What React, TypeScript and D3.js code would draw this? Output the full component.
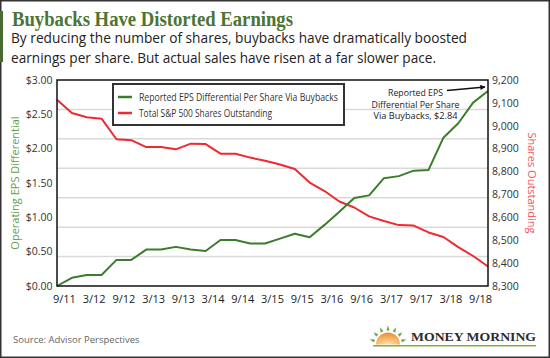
import { useEffect, useRef } from "react";
import * as d3 from "d3";

// quarterly values, 9/11 .. 12/18
const epsDiff = [
  0.0, 0.12, 0.16, 0.16, 0.38, 0.38, 0.53, 0.53, 0.57, 0.53,
  0.51, 0.67, 0.67, 0.62, 0.62, 0.69, 0.76, 0.71, 0.89, 1.08,
  1.28, 1.32, 1.57, 1.6, 1.68, 1.69, 2.16, 2.37, 2.67, 2.84,
];
const sharesOut = [
  9114, 9056, 9037, 9031, 8941, 8937, 8907, 8907, 8897, 8922,
  8920, 8878, 8878, 8861, 8847, 8831, 8811, 8752, 8715, 8669,
  8643, 8604, 8584, 8566, 8564, 8534, 8514, 8470, 8431, 8385,
];
const xLabels = [
  "9/11", "3/12", "9/12", "3/13", "9/13", "3/14", "9/14", "3/15",
  "9/15", "3/16", "9/16", "3/17", "9/17", "3/18", "9/18",
];
const leftTicks = [0, 0.5, 1, 1.5, 2, 2.5, 3];
const rightTicks = [8300, 8400, 8500, 8600, 8700, 8800, 8900, 9000, 9100, 9200];

const GREEN = "#3a7d2b";
const RED = "#ef2a2f";
const FONT = "'Open Sans', Arial, sans-serif";

export default function App() {
  const ref = useRef<SVGSVGElement>(null);

  useEffect(() => {
    if (!ref.current) return;
    const svg = d3.select(ref.current);
    svg.selectAll("*").remove();

    const width = 550;
    const height = 358;
    const margin = { top: 80, right: 62, bottom: 72, left: 57 };
    const plotR = width - margin.right;
    const plotB = height - margin.bottom;

    const x = d3.scaleLinear().domain([0, epsDiff.length - 1]).range([margin.left, plotR]);
    const yL = d3.scaleLinear().domain([0, 3]).range([plotB, margin.top]);
    const yR = d3.scaleLinear().domain([8300, 9200]).range([plotB, margin.top]);

    // outer frame and headline
    svg.append("rect").attr("x", 0.75).attr("y", 0.75).attr("width", width - 1.5).attr("height", height - 1.5)
      .attr("fill", "white").attr("stroke", "#333").attr("stroke-width", 1.5);
    svg.append("rect").attr("x", 0).attr("y", 11).attr("width", 3).attr("height", 51).attr("fill", "#4a6b34");

    svg.append("text").attr("x", 12).attr("y", 26)
      .attr("font-family", "'Liberation Serif', serif").attr("font-weight", "bold").attr("font-size", 20)
      .attr("fill", "#4c7535").attr("textLength", 281).attr("lengthAdjust", "spacingAndGlyphs")
      .text("Buybacks Have Distorted Earnings");

    const sub = [
      ["By reducing the number of shares, buybacks have dramatically boosted", 456],
      ["earnings per share. But actual sales have risen at a far slower pace.", 425],
    ] as const;
    sub.forEach(([t, len], i) => {
      svg.append("text").attr("x", 11).attr("y", 43 + i * 19.5)
        .attr("font-family", FONT).attr("font-size", 14.5).attr("fill", "#222")
        .attr("textLength", len).attr("lengthAdjust", "spacingAndGlyphs").text(t);
    });

    // gridlines (7 even divisions of the plot)
    const ph = plotB - margin.top;
    svg.append("g").selectAll("line").data(d3.range(1, 7)).join("line")
      .attr("x1", margin.left).attr("x2", plotR)
      .attr("y1", d => margin.top + (d * ph) / 7).attr("y2", d => margin.top + (d * ph) / 7)
      .attr("stroke", "#d9d9d9").attr("stroke-width", 1.5);

    // lines
    const lineL = d3.line<number>().x((_, i) => x(i)).y(d => yL(d));
    const lineR = d3.line<number>().x((_, i) => x(i)).y(d => yR(d));
    svg.append("path").datum(sharesOut).attr("d", lineR).attr("fill", "none")
      .attr("stroke", RED).attr("stroke-width", 2).attr("stroke-linejoin", "round");
    svg.append("path").datum(epsDiff).attr("d", lineL).attr("fill", "none")
      .attr("stroke", GREEN).attr("stroke-width", 2).attr("stroke-linejoin", "round");

    // plot frame
    svg.append("rect").attr("x", margin.left).attr("y", margin.top)
      .attr("width", plotR - margin.left).attr("height", ph)
      .attr("fill", "none").attr("stroke", "#111").attr("stroke-width", 1.5);

    // axes labels
    svg.append("g").selectAll("text").data(leftTicks).join("text")
      .attr("x", 52.5).attr("y", d => yL(d) + 3.8).attr("text-anchor", "end")
      .attr("font-family", FONT).attr("font-size", 10.5).attr("fill", "#333")
      .text(d => "$" + d.toFixed(2));
    svg.append("g").selectAll("text").data(rightTicks).join("text")
      .attr("x", 492).attr("y", d => yR(d) + 3.8)
      .attr("font-family", FONT).attr("font-size", 10.5).attr("fill", "#333")
      .text(d => d3.format(",")(d));
    svg.append("g").selectAll("text").data(xLabels).join("text")
      .attr("x", (_, i) => x(i * 2 + 0.5)).attr("y", 303).attr("text-anchor", "middle")
      .attr("font-family", FONT).attr("font-size", 11).attr("fill", "#222")
      .text(d => d);

    svg.append("text").attr("transform", "translate(19,183) rotate(-90)").attr("text-anchor", "middle")
      .attr("font-family", FONT).attr("font-size", 11).attr("fill", "#5fa04a")
      .text("Operating EPS Differential");
    svg.append("text").attr("transform", "translate(528,183) rotate(90)").attr("text-anchor", "middle")
      .attr("font-family", FONT).attr("font-size", 11).attr("fill", "#f2545a")
      .text("Shares Outstanding");

    // legend
    const lg = svg.append("g").attr("transform", "translate(113,84)");
    lg.append("rect").attr("width", 231).attr("height", 41).attr("fill", "white")
      .attr("stroke", "#333").attr("stroke-width", 2);
    const entries = [
      { label: "Reported EPS Differential Per Share Via Buybacks", color: GREEN, len: 199 },
      { label: "Total S&P 500 Shares Outstanding", color: RED, len: 133 },
    ];
    entries.forEach((e, i) => {
      const cy = 13 + i * 16;
      lg.append("line").attr("x1", 5).attr("x2", 19).attr("y1", cy).attr("y2", cy)
        .attr("stroke", e.color).attr("stroke-width", 2.5);
      lg.append("text").attr("x", 26).attr("y", cy + 3.5)
        .attr("font-family", FONT).attr("font-size", 10).attr("fill", "#333")
        .attr("textLength", e.len).attr("lengthAdjust", "spacingAndGlyphs").text(e.label);
    });

    // annotation for last value
    const last = epsDiff.length - 1;
    const ann = [
      ["Reported EPS", 55],
      ["Differential Per Share", 88],
      ["Via Buybacks, $" + epsDiff[last].toFixed(2), 84],
    ] as const;
    ann.forEach(([t, len], i) => {
      svg.append("text").attr("x", 415.5).attr("y", 95.8 + i * 11.7).attr("text-anchor", "middle")
        .attr("font-family", FONT).attr("font-size", 8.5).attr("fill", "#222")
        .attr("textLength", len).attr("lengthAdjust", "spacingAndGlyphs").text(t);
    });
    const defs = svg.append("defs");
    defs.append("marker").attr("id", "ah").attr("viewBox", "0 0 10 10").attr("refX", 9).attr("refY", 5)
      .attr("markerWidth", 5).attr("markerHeight", 4).attr("orient", "auto")
      .append("path").attr("d", "M0,0L10,5L0,10Z").attr("fill", "#111");
    svg.append("line").attr("x1", 447).attr("y1", 90.5).attr("x2", x(last) - 3).attr("y2", yL(epsDiff[last]) - 4)
      .attr("stroke", "#111").attr("stroke-width", 1.3).attr("marker-end", "url(#ah)");

    // footer
    svg.append("text").attr("x", 13).attr("y", 343)
      .attr("font-family", FONT).attr("font-size", 9.5).attr("fill", "#666")
      .text("Source: Advisor Perspectives");

    const grad = defs.append("radialGradient").attr("id", "sun").attr("cx", "50%").attr("cy", "100%").attr("r", "100%");
    grad.append("stop").attr("offset", "0%").attr("stop-color", "#fde3b0");
    grad.append("stop").attr("offset", "100%").attr("stop-color", "#f08a2a");
    const sx = 388, sy = 344.5, sr = 12;
    svg.append("path")
      .attr("d", d3.arc()({ innerRadius: 0, outerRadius: sr, startAngle: -Math.PI / 2, endAngle: Math.PI / 2 }) as string)
      .attr("transform", `translate(${sx},${sy})`).attr("fill", "url(#sun)");
    d3.range(-75, 76, 25).forEach(a => {
      const r = (a * Math.PI) / 180;
      const px = sx + Math.sin(r) * (sr + 4), py = sy - Math.cos(r) * (sr + 4);
      svg.append("path").attr("d", "M-1.6,2L0,-3L1.6,2Z")
        .attr("transform", `translate(${px},${py}) rotate(${a})`).attr("fill", "#6aa83a");
    });
    svg.append("line").attr("x1", 373).attr("x2", 536).attr("y1", 345.8).attr("y2", 345.8)
      .attr("stroke", "#7cae3f").attr("stroke-width", 1.5);
    svg.append("text").attr("x", 411).attr("y", 341)
      .attr("font-family", "'Liberation Serif', serif").attr("font-weight", "bold").attr("font-size", 12)
      .attr("fill", "#2c2c2c").attr("textLength", 125).attr("lengthAdjust", "spacingAndGlyphs")
      .text("MONEY MORNING");
  }, []);

  return (
    <svg ref={ref} width={550} height={358} style={{ position: "absolute", left: 0, top: 0 }} />
  );
}
